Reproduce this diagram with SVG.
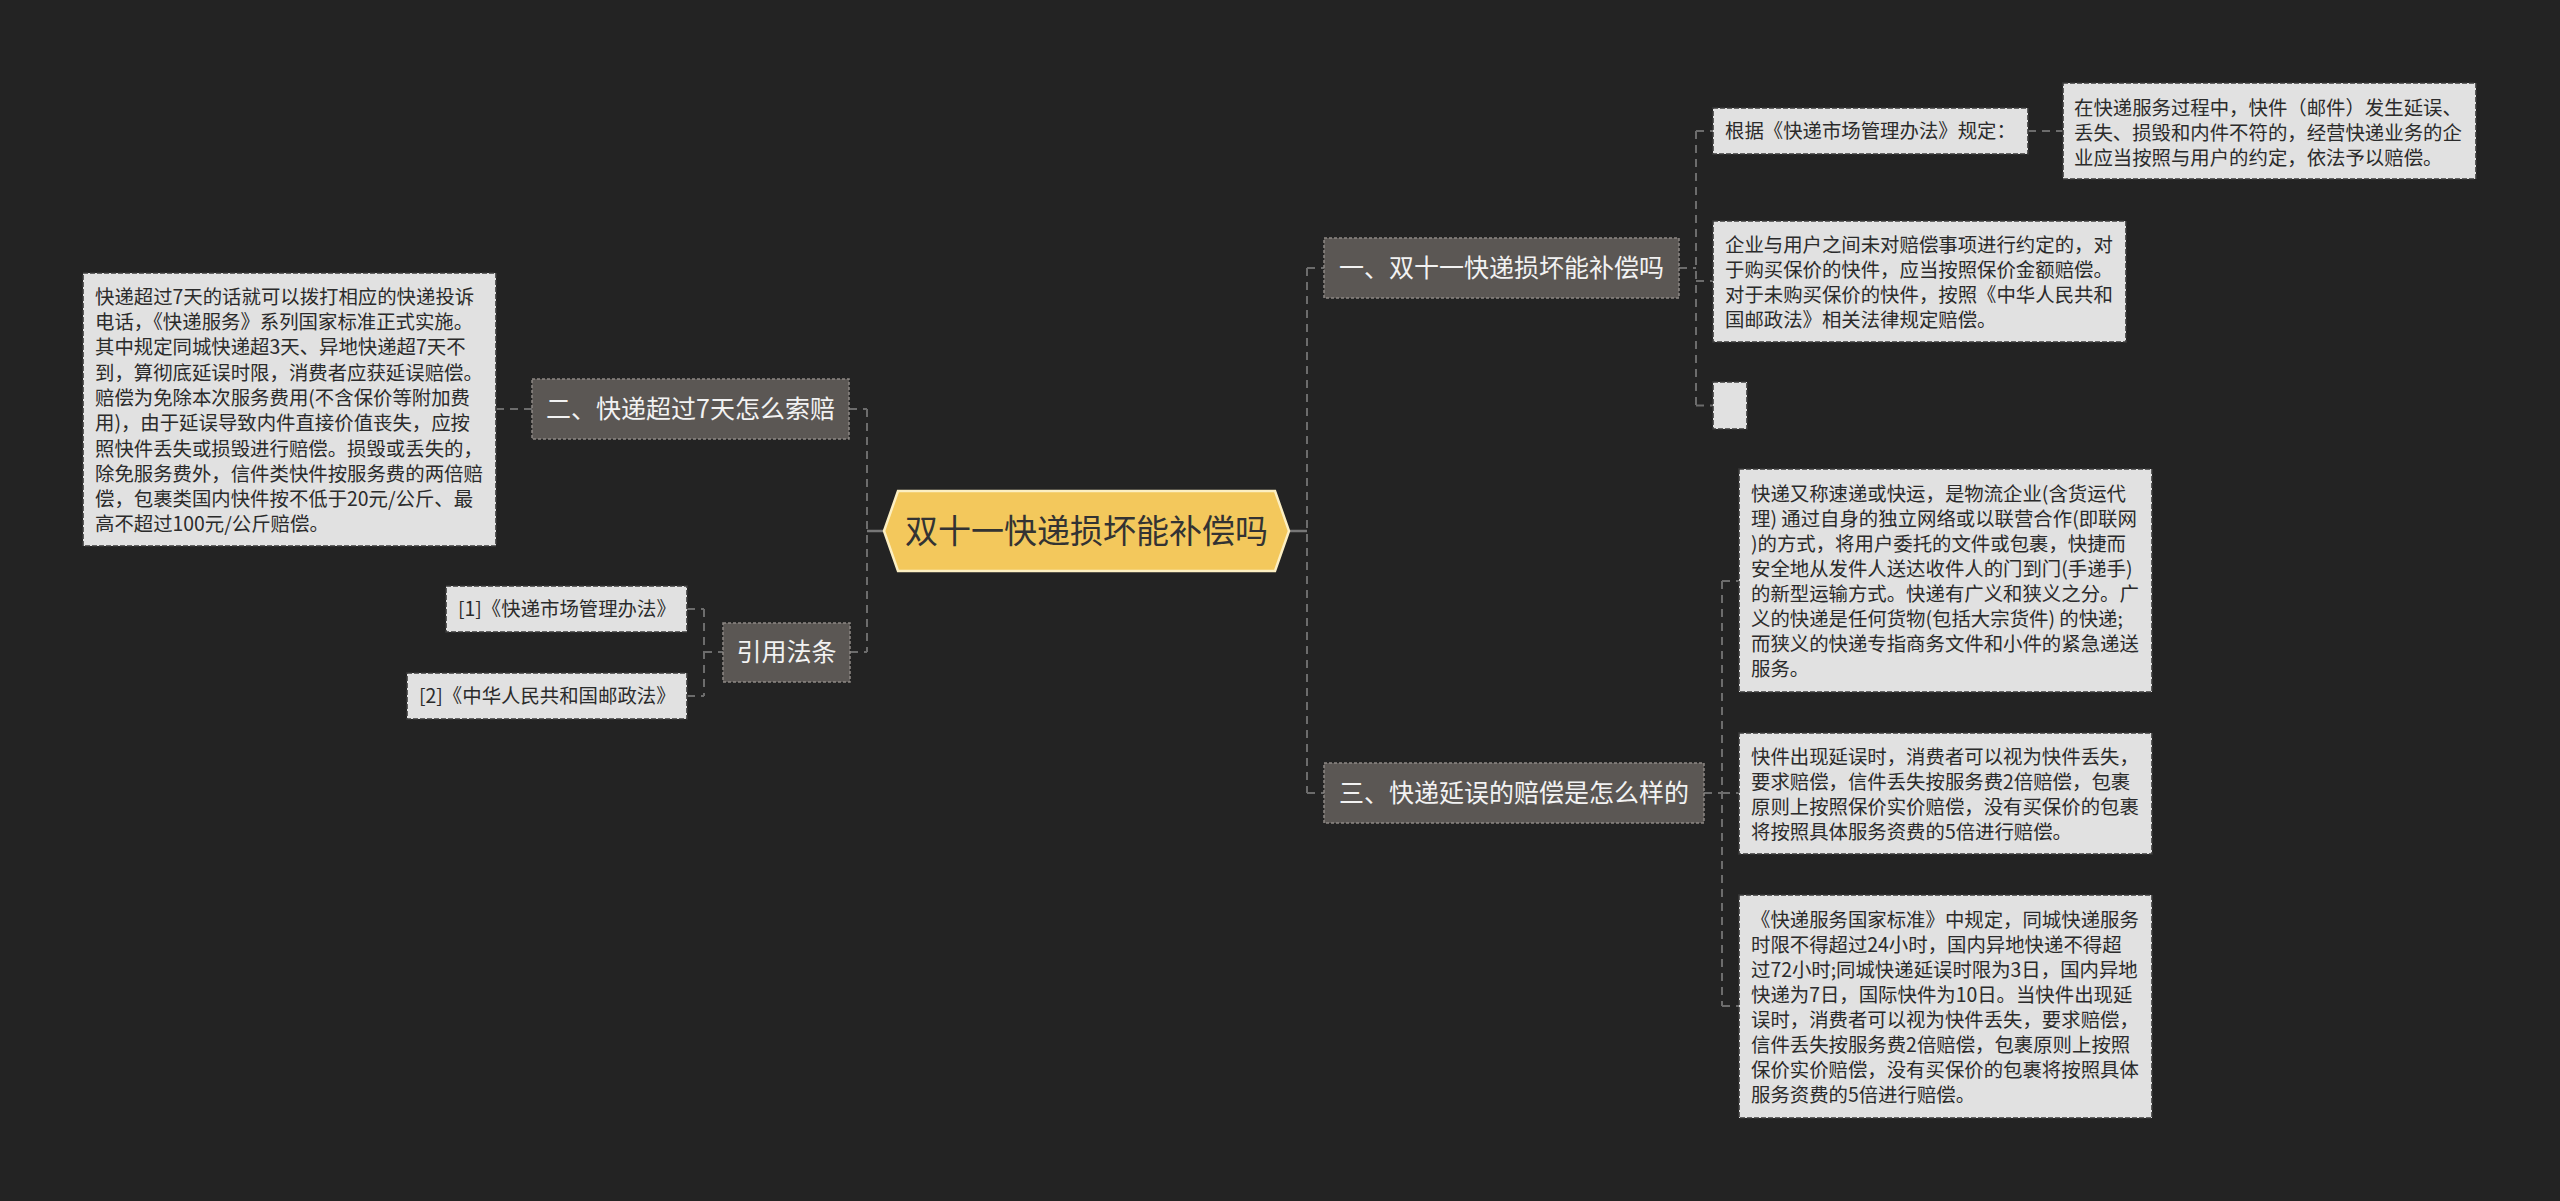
<svg xmlns="http://www.w3.org/2000/svg" width="2560" height="1201" viewBox="0 0 2560 1201">
<style>
.bg{fill:#232323}
.con{fill:none;stroke:#6c6c6c;stroke-width:2;stroke-dasharray:8 6}
.stub{fill:none;stroke:#777;stroke-width:2.5}
.branch{fill:#5b5754;stroke:#8d8884;stroke-width:1.5;stroke-dasharray:3 2}
.leaf{fill:#e1e1e1;stroke:#3a3a3a;stroke-width:1.6;stroke-dasharray:5 2}
.bt{font-family:"Noto Sans CJK SC","Noto Sans",sans-serif;font-size:25px;fill:#f2f2f2;text-anchor:middle}
.lt{font-family:"Noto Sans CJK SC","Noto Sans",sans-serif;font-size:19.4px;fill:#2b2b2b}
.ct{font-family:"Noto Sans CJK SC","Noto Sans",sans-serif;font-size:33px;fill:#333;text-anchor:middle}
</style>
<rect class="bg" x="0" y="0" width="2560" height="1201"/>

<g id="connectors">
  <path class="stub" d="M867 531H884M1289 531H1307"/>
  <path class="con" d="M867 409V652M849 409H867M850 652H867"/>
  <path class="con" d="M496 409H532"/>
  <path class="con" d="M704 609V696M687 609H704M687 696H704M704 652H723"/>
  <path class="con" d="M1307 268V793M1307 268H1324M1307 793H1324"/>
  <path class="con" d="M1679 268H1696M1696 131V405.5M1696 131H1713M1696 281H1713M1696 405.5H1713"/>
  <path class="con" d="M2028 131H2063"/>
  <path class="con" d="M1704 793H1722M1722 581V1006M1722 581H1739M1722 793H1739M1722 1006H1739"/>
</g>

<g id="root">
  <polygon points="884,531 898,491 1275,491 1289,531 1275,571 898,571" fill="#f3c85c" stroke="#fcefc2" stroke-width="2.5"/>
  <text class="ct" x="1086.5" y="543">双十一快递损坏能补偿吗</text>
</g>

<g id="b1">
  <rect class="branch" x="1324" y="238" width="355" height="60"/>
  <text class="bt" x="1501.5" y="277">一、双十一快递损坏能补偿吗</text>
</g>
<g id="b3">
  <rect class="branch" x="1324" y="763" width="380" height="60"/>
  <text class="bt" x="1514" y="802">三、快递延误的赔偿是怎么样的</text>
</g>
<g id="b2">
  <rect class="branch" x="532" y="379" width="317" height="60"/>
  <text class="bt" x="690.5" y="418">二、快递超过7天怎么索赔</text>
</g>
<g id="b4">
  <rect class="branch" x="723" y="623" width="127" height="59"/>
  <text class="bt" x="786.5" y="661">引用法条</text>
</g>

<g id="leaf-left">
  <rect class="leaf" x="83" y="273" width="413" height="273"/>
  <text class="lt">
    <tspan x="95" y="303.7">快递超过7天的话就可以拨打相应的快递投诉</tspan>
    <tspan x="95" y="329">电话，《快递服务》系列国家标准正式实施。</tspan>
    <tspan x="95" y="354.3">其中规定同城快递超3天、异地快递超7天不</tspan>
    <tspan x="95" y="379.6">到，算彻底延误时限，消费者应获延误赔偿。</tspan>
    <tspan x="95" y="404.9">赔偿为免除本次服务费用(不含保价等附加费</tspan>
    <tspan x="95" y="430.2">用)，由于延误导致内件直接价值丧失，应按</tspan>
    <tspan x="95" y="455.5">照快件丢失或损毁进行赔偿。损毁或丢失的，</tspan>
    <tspan x="95" y="480.8">除免服务费外，信件类快件按服务费的两倍赔</tspan>
    <tspan x="95" y="506.1">偿，包裹类国内快件按不低于20元/公斤、最</tspan>
    <tspan x="95" y="531.4">高不超过100元/公斤赔偿。</tspan>
  </text>
</g>

<g id="ref1">
  <rect class="leaf" x="446" y="586" width="241" height="46"/>
  <text class="lt" x="458" y="616">[1]《快递市场管理办法》</text>
</g>
<g id="ref2">
  <rect class="leaf" x="407" y="673" width="280" height="46"/>
  <text class="lt" x="419" y="703">[2]《中华人民共和国邮政法》</text>
</g>

<g id="leaf-r1">
  <rect class="leaf" x="1713" y="108" width="315" height="46"/>
  <text class="lt" x="1725" y="138">根据《快递市场管理办法》规定：</text>
</g>
<g id="leaf-r2">
  <rect class="leaf" x="2063" y="83" width="413" height="96"/>
  <text class="lt">
    <tspan x="2074" y="114.5">在快递服务过程中，快件（邮件）发生延误、</tspan>
    <tspan x="2074" y="139.5">丢失、损毁和内件不符的，经营快递业务的企</tspan>
    <tspan x="2074" y="164.5">业应当按照与用户的约定，依法予以赔偿。</tspan>
  </text>
</g>
<g id="leaf-r3">
  <rect class="leaf" x="1713" y="221" width="413" height="121"/>
  <text class="lt">
    <tspan x="1725" y="252">企业与用户之间未对赔偿事项进行约定的，对</tspan>
    <tspan x="1725" y="277">于购买保价的快件，应当按照保价金额赔偿。</tspan>
    <tspan x="1725" y="302">对于未购买保价的快件，按照《中华人民共和</tspan>
    <tspan x="1725" y="327">国邮政法》相关法律规定赔偿。</tspan>
  </text>
</g>
<g id="leaf-r4">
  <rect class="leaf" x="1713" y="382" width="34" height="47"/>
</g>

<g id="leaf-b1">
  <rect class="leaf" x="1739" y="469" width="413" height="223"/>
  <text class="lt">
    <tspan x="1751" y="501">快递又称速递或快运，是物流企业(含货运代</tspan>
    <tspan x="1751" y="526">理) 通过自身的独立网络或以联营合作(即联网</tspan>
    <tspan x="1751" y="551">)的方式，将用户委托的文件或包裹，快捷而</tspan>
    <tspan x="1751" y="576">安全地从发件人送达收件人的门到门(手递手)</tspan>
    <tspan x="1751" y="601">的新型运输方式。快递有广义和狭义之分。广</tspan>
    <tspan x="1751" y="626">义的快递是任何货物(包括大宗货件) 的快递;</tspan>
    <tspan x="1751" y="651">而狭义的快递专指商务文件和小件的紧急递送</tspan>
    <tspan x="1751" y="676">服务。</tspan>
  </text>
</g>
<g id="leaf-b2">
  <rect class="leaf" x="1739" y="733" width="413" height="121"/>
  <text class="lt">
    <tspan x="1751" y="764">快件出现延误时，消费者可以视为快件丢失，</tspan>
    <tspan x="1751" y="789">要求赔偿，信件丢失按服务费2倍赔偿，包裹</tspan>
    <tspan x="1751" y="814">原则上按照保价实价赔偿，没有买保价的包裹</tspan>
    <tspan x="1751" y="839">将按照具体服务资费的5倍进行赔偿。</tspan>
  </text>
</g>
<g id="leaf-b3">
  <rect class="leaf" x="1739" y="895" width="413" height="223"/>
  <text class="lt">
    <tspan x="1751" y="927">《快递服务国家标准》中规定，同城快递服务</tspan>
    <tspan x="1751" y="952">时限不得超过24小时，国内异地快递不得超</tspan>
    <tspan x="1751" y="977">过72小时;同城快递延误时限为3日，国内异地</tspan>
    <tspan x="1751" y="1002">快递为7日，国际快件为10日。当快件出现延</tspan>
    <tspan x="1751" y="1027">误时，消费者可以视为快件丢失，要求赔偿，</tspan>
    <tspan x="1751" y="1052">信件丢失按服务费2倍赔偿，包裹原则上按照</tspan>
    <tspan x="1751" y="1077">保价实价赔偿，没有买保价的包裹将按照具体</tspan>
    <tspan x="1751" y="1102">服务资费的5倍进行赔偿。</tspan>
  </text>
</g>
</svg>
